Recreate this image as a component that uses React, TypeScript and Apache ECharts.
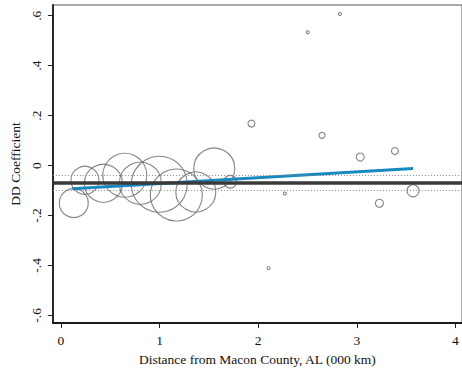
import React, { useEffect, useRef } from "react";
import * as echarts from "echarts";

// County-level DD coefficients against distance (000 km); weights set bubble area
const distance = [0.13, 0.243, 0.43, 0.647, 0.805, 0.997, 1.17, 1.367, 1.554, 1.716,
  1.931, 2.105, 2.27, 2.502, 2.647, 2.828, 3.034, 3.229, 3.386, 3.57];
const coefficient = [-0.15, -0.059, -0.071, -0.039, -0.071, -0.075, -0.118, -0.106, -0.012, -0.065,
  0.168, -0.411, -0.112, 0.534, 0.121, 0.607, 0.034, -0.151, 0.058, -0.101];
const weights = [210, 196, 361, 484, 441, 784, 676, 400, 420, 40,
  12, 2.25, 2.25, 2.25, 9, 2.25, 16, 16, 12, 36];

// Pooled estimate and its confidence band
const pooledEstimate = -0.071;
const pooledBand = [-0.045, -0.097];

// Weighted linear fit across distance
const fitX = [0.115, 3.57];
const fitY = [-0.093, -0.012];

const xTicks = [0, 1, 2, 3, 4];
const yTicks = [-0.6, -0.4, -0.2, 0, 0.2, 0.4, 0.6];

const FONT = "Liberation Serif";

const stataNum = (v: number) => {
  if (Math.abs(v) < 1e-9) return "0";
  const s = Math.abs(v).toFixed(1).replace(/^0/, "");
  return (v < 0 ? "-" : "") + s;
};

export default function App() {
  const ref = useRef<HTMLDivElement>(null);

  useEffect(() => {
    if (!ref.current) return;
    const chart = echarts.init(ref.current, undefined, { renderer: "svg" });

    const bubbles = distance.map((d, i) => [d, coefficient[i], weights[i]]);

    chart.setOption({
      animation: false,
      backgroundColor: "#ffffff",
      textStyle: { fontFamily: FONT },
      grid: {
        left: 44,
        top: 5,
        right: -3,
        bottom: 43,
        show: true,
        borderColor: "#555",
        borderWidth: 1,
      },
      xAxis: {
        type: "value",
        min: -0.0818,
        max: 4.066,
        name: "Distance from Macon County, AL (000 km)",
        nameLocation: "middle",
        nameGap: 22,
        nameTextStyle: { fontFamily: FONT, fontSize: 13.5, color: "#111" },
        axisLine: { show: true, onZero: false, lineStyle: { color: "#1a1a1a", width: 1.8 } },
        axisTick: { show: true, length: 5, customValues: xTicks, lineStyle: { color: "#222" } },
        axisLabel: {
          customValues: xTicks,
          margin: 10,
          fontFamily: FONT,
          fontSize: 13.5,
          color: "#111",
          formatter: (v: number) => String(v),
        },
        splitLine: { show: false },
      },
      yAxis: {
        type: "value",
        min: -0.631,
        max: 0.643,
        name: "DD Coefficient",
        nameLocation: "middle",
        nameGap: 25,
        nameRotate: 90,
        nameTextStyle: { fontFamily: FONT, fontSize: 13.5, color: "#111" },
        axisLine: { show: true, onZero: false, lineStyle: { color: "#1a1a1a", width: 1.8 } },
        axisTick: { show: true, length: 5, customValues: yTicks, lineStyle: { color: "#222" } },
        axisLabel: {
          customValues: yTicks,
          rotate: 90,
          margin: 9,
          fontFamily: FONT,
          fontSize: 13.5,
          color: "#111",
          formatter: (v: number) => stataNum(v),
        },
        splitLine: { show: false },
      },
      series: [
        {
          type: "scatter",
          data: bubbles,
          symbol: "circle",
          symbolSize: (val: number[]) => Math.max(3, 2 * Math.sqrt(val[2])),
          itemStyle: { color: "rgba(0,0,0,0)", borderColor: "#666", borderWidth: 1.1 },
          z: 2,
        },
        {
          type: "line",
          data: [],
          silent: true,
          z: 3,
          markLine: {
            silent: true,
            symbol: "none",
            label: { show: false },
            data: [
              { yAxis: pooledEstimate, lineStyle: { color: "#3a3a3a", width: 3.5, type: "solid" } },
              { yAxis: pooledBand[0], lineStyle: { color: "#888", width: 1, type: [1, 2] } },
              { yAxis: pooledBand[1], lineStyle: { color: "#888", width: 1, type: [1, 2] } },
            ],
          },
        },
        {
          type: "line",
          data: fitX.map((x, i) => [x, fitY[i]]),
          symbol: "none",
          lineStyle: { color: "#1689bf", width: 3 },
          z: 4,
        },
      ],
    });

    return () => chart.dispose();
  }, []);

  return (
    <div
      ref={ref}
      style={{ position: "fixed", left: 0, top: 0, width: 462, height: 371 }}
    />
  );
}
